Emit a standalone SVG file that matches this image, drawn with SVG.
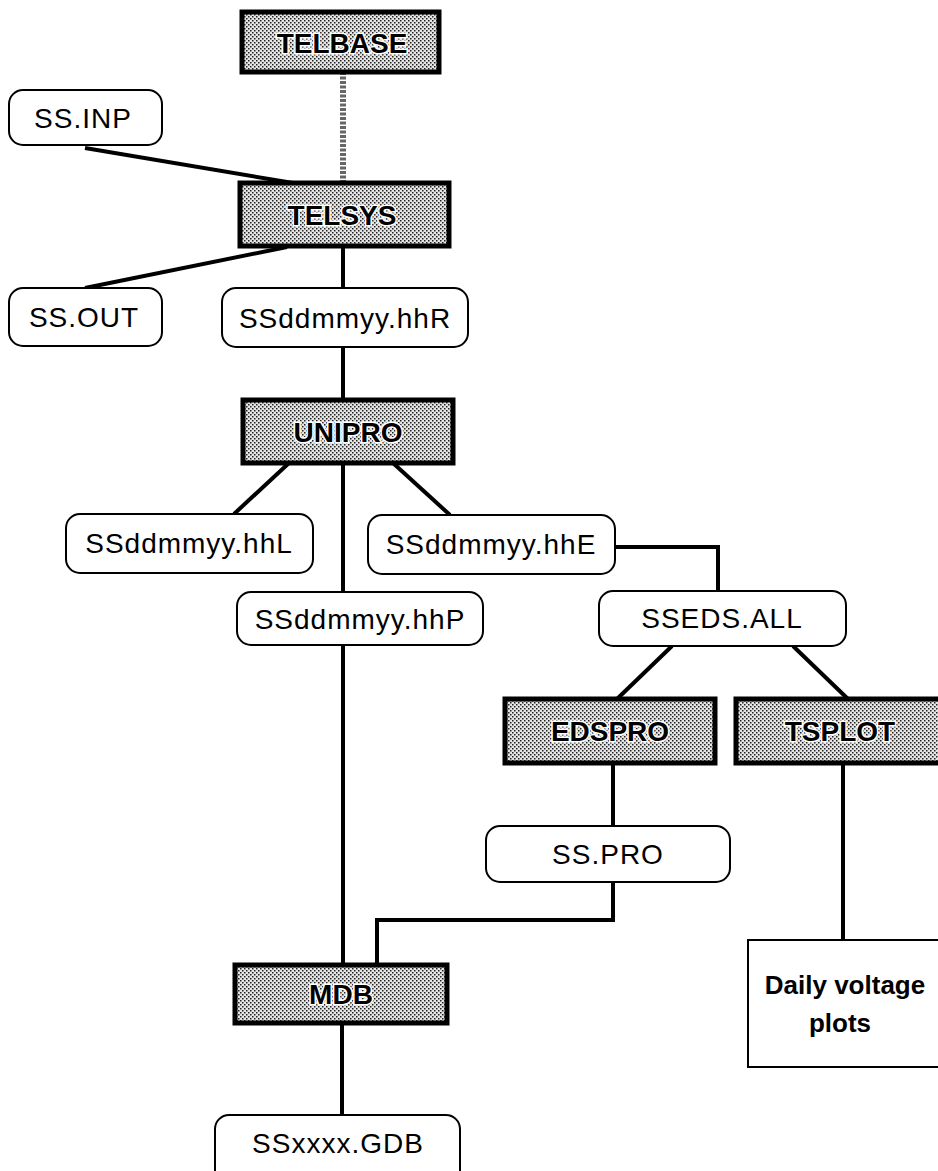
<svg xmlns="http://www.w3.org/2000/svg" width="938" height="1171" viewBox="0 0 938 1171">
<style>
  .bg { fill: #ffffff; }
  .shaded { fill: url(#stipple); stroke: #000; stroke-width: 5; }
  .round { fill: #ffffff; stroke: #000; stroke-width: 2; }
  .plain { fill: #ffffff; stroke: #000; stroke-width: 2; }
  .lbl { font-family: "Liberation Sans", Arial, sans-serif; font-size: 28px; letter-spacing: 1px; fill: #000; text-anchor: middle; dominant-baseline: central; }
  .slbl { font-family: "Liberation Sans", Arial, sans-serif; font-size: 28px; font-weight: bold; fill: #000; text-anchor: middle; dominant-baseline: central; stroke: #fff; stroke-width: 3px; paint-order: stroke; }
  .blbl { font-family: "Liberation Sans", Arial, sans-serif; font-size: 26px; font-weight: bold; fill: #000; text-anchor: middle; dominant-baseline: central; }
  .conn { fill: none; stroke: #000; stroke-width: 4; stroke-linejoin: miter; }
  .dotted { fill: none; stroke: #666; stroke-width: 6; stroke-dasharray: 3 1.5; }
</style>
<defs>
  <pattern id="stipple" width="4" height="4" patternUnits="userSpaceOnUse">
    <rect width="4" height="4" fill="#e4e4e4"/>
    <rect x="0" y="0" width="1.5" height="1.5" fill="#222"/>
    <rect x="2" y="2" width="1.5" height="1.5" fill="#222"/>
  </pattern>
</defs>
<rect class="bg" x="0" y="0" width="938" height="1171"/>

<g id="connectors">
  <line class="dotted" x1="343" y1="72" x2="343" y2="183"/>
  <line class="conn" x1="85" y1="148" x2="293" y2="183"/>
  <line class="conn" x1="85" y1="288" x2="287" y2="247"/>
  <line class="conn" x1="343" y1="246" x2="343" y2="288"/>
  <line class="conn" x1="343" y1="347" x2="343" y2="400"/>
  <line class="conn" x1="289" y1="463" x2="234" y2="514"/>
  <line class="conn" x1="393" y1="463" x2="450" y2="515"/>
  <line class="conn" x1="343" y1="463" x2="343" y2="592"/>
  <line class="conn" x1="343" y1="645" x2="343" y2="965"/>
  <polyline class="conn" points="615,547 718,547 718,591"/>
  <line class="conn" x1="672" y1="646" x2="617" y2="699"/>
  <line class="conn" x1="793" y1="646" x2="848" y2="699"/>
  <line class="conn" x1="613" y1="763" x2="613" y2="826"/>
  <polyline class="conn" points="613,882 613,920 377,920 377,965"/>
  <line class="conn" x1="843" y1="763" x2="843" y2="940"/>
  <line class="conn" x1="342" y1="1023" x2="342" y2="1115"/>
</g>

<g id="TELBASE">
  <rect class="shaded" x="242" y="12" width="197" height="60"/>
  <text class="slbl" x="342" y="43">TELBASE</text>
</g>
<g id="SS_INP">
  <rect class="round" x="9" y="90" width="153" height="55" rx="14"/>
  <text class="lbl" x="83" y="118">SS.INP</text>
</g>
<g id="TELSYS">
  <rect class="shaded" x="240" y="183" width="209" height="63"/>
  <text class="slbl" x="342" y="215">TELSYS</text>
</g>
<g id="SS_OUT">
  <rect class="round" x="9" y="288" width="153" height="58" rx="14"/>
  <text class="lbl" x="84" y="317">SS.OUT</text>
</g>
<g id="SSddmmyy_hhR">
  <rect class="round" x="222" y="288" width="246" height="59" rx="14"/>
  <text class="lbl" x="345" y="318">SSddmmyy.hhR</text>
</g>
<g id="UNIPRO">
  <rect class="shaded" x="243" y="400" width="210" height="63"/>
  <text class="slbl" x="348" y="432">UNIPRO</text>
</g>
<g id="SSddmmyy_hhL">
  <rect class="round" x="66" y="514" width="247" height="59" rx="14"/>
  <text class="lbl" x="189" y="543">SSddmmyy.hhL</text>
</g>
<g id="SSddmmyy_hhE">
  <rect class="round" x="368" y="515" width="247" height="59" rx="14"/>
  <text class="lbl" x="491" y="544">SSddmmyy.hhE</text>
</g>
<g id="SSddmmyy_hhP">
  <rect class="round" x="237" y="592" width="246" height="53" rx="14"/>
  <text class="lbl" x="360" y="619">SSddmmyy.hhP</text>
</g>
<g id="SSEDS_ALL">
  <rect class="round" x="599" y="591" width="247" height="55" rx="14"/>
  <text class="lbl" x="722" y="618">SSEDS.ALL</text>
</g>
<g id="EDSPRO">
  <rect class="shaded" x="505" y="699" width="210" height="64"/>
  <text class="slbl" x="610" y="731">EDSPRO</text>
</g>
<g id="TSPLOT">
  <rect class="shaded" x="736" y="699" width="210" height="64"/>
  <text class="slbl" x="840" y="731">TSPLOT</text>
</g>
<g id="SS_PRO">
  <rect class="round" x="486" y="826" width="244" height="56" rx="14"/>
  <text class="lbl" x="608" y="854">SS.PRO</text>
</g>
<g id="Daily_voltage_plots">
  <rect class="plain" x="748" y="940" width="200" height="127"/>
  <text class="blbl" x="845" y="985">Daily voltage</text>
  <text class="blbl" x="840" y="1023">plots</text>
</g>
<g id="MDB">
  <rect class="shaded" x="235" y="965" width="212" height="58"/>
  <text class="slbl" x="341" y="994">MDB</text>
</g>
<g id="SSxxxx_GDB">
  <rect class="round" x="215" y="1115" width="245" height="70" rx="14"/>
  <text class="lbl" x="338" y="1143">SSxxxx.GDB</text>
</g>
</svg>
